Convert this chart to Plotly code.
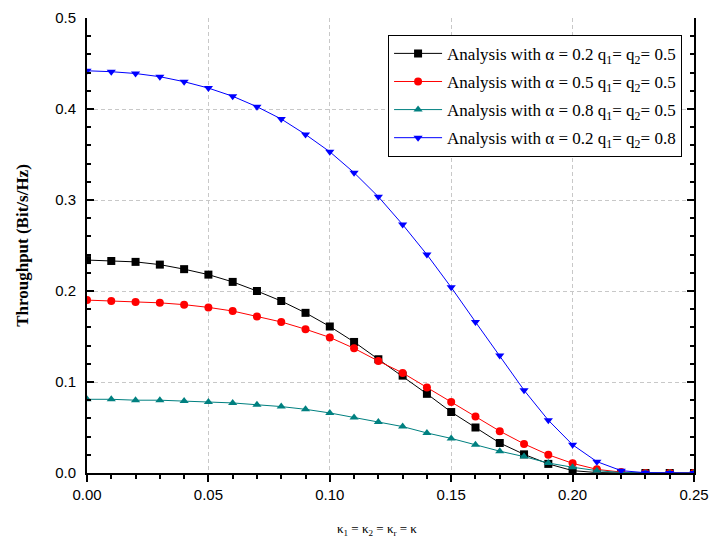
import plotly.graph_objects as go

kappa = [0.00, 0.01, 0.02, 0.03, 0.04, 0.05, 0.06, 0.07, 0.08, 0.09, 0.10, 0.11, 0.12,
         0.13, 0.14, 0.15, 0.16, 0.17, 0.18, 0.19, 0.20, 0.21, 0.22, 0.23, 0.24, 0.25]

thr_a02_q05 = [0.234, 0.233, 0.232, 0.229, 0.224, 0.218, 0.210, 0.200, 0.189, 0.176, 0.161,
               0.144, 0.125, 0.107, 0.087, 0.067, 0.050, 0.033, 0.0205, 0.010, 0.0026,
               0.0005, 0.0, 0.0, 0.0, 0.0]
thr_a05_q05 = [0.190, 0.189, 0.188, 0.187, 0.185, 0.182, 0.178, 0.172, 0.166, 0.158, 0.149,
               0.137, 0.123, 0.110, 0.094, 0.078, 0.062, 0.046, 0.032, 0.020, 0.0106,
               0.004, 0.001, 0.0, 0.0, 0.0]
thr_a08_q05 = [0.081, 0.081, 0.080, 0.080, 0.079, 0.078, 0.077, 0.075, 0.073, 0.070, 0.066,
               0.061, 0.056, 0.051, 0.044, 0.038, 0.031, 0.024, 0.018, 0.011, 0.0063,
               0.0026, 0.0005, 0.0, 0.0, 0.0]
thr_a02_q08 = [0.442, 0.441, 0.439, 0.4355, 0.430, 0.423, 0.414, 0.4025, 0.389, 0.372, 0.353,
               0.330, 0.3036, 0.273, 0.240, 0.204, 0.166, 0.129, 0.091, 0.058, 0.031,
               0.0125, 0.0026, 0.0003, 0.0, 0.0]

names = [
    "Analysis with α = 0.2 q<sub>1</sub>= q<sub>2</sub>= 0.5",
    "Analysis with α = 0.5 q<sub>1</sub>= q<sub>2</sub>= 0.5",
    "Analysis with α = 0.8 q<sub>1</sub>= q<sub>2</sub>= 0.5",
    "Analysis with α = 0.2 q<sub>1</sub>= q<sub>2</sub>= 0.8",
]
series = [thr_a02_q05, thr_a05_q05, thr_a08_q05, thr_a02_q08]
colors = ["#000000", "#FF0000", "#008080", "#0000FF"]
symbols = ["square", "circle", "triangle-up", "triangle-down"]
x_title = "κ<sub>1</sub> = κ<sub>2</sub> = κ<sub>r</sub> = κ"
y_title = "<b>Throughput (Bit/s/Hz)</b>"

fig = go.Figure()
for i, (nm, ys, c, s) in enumerate(zip(names, series, colors, symbols)):
    fig.add_trace(go.Scatter(x=kappa, y=ys, name=nm, mode="lines+markers",
                             legendgroup=f"g{i}",
                             line=dict(color=c, width=1),
                             marker=dict(symbol=s, size=8, color=c)))

serif = "Liberation Serif, Times New Roman, serif"
sans = "Liberation Sans, Arial, sans-serif"
grid_dash = "4px,3px"

fig.update_layout(
    width=710, height=535,
    margin=dict(l=79, r=24, t=10, b=70),
    paper_bgcolor="white", plot_bgcolor="white",
    showlegend=True,
    legend=dict(x=0.496, y=0.963, xanchor="left", yanchor="top",
                bgcolor="white", bordercolor="black", borderwidth=1,
                font=dict(family=serif, size=17, color="black"),
                itemwidth=48, tracegroupgap=3),
    xaxis=dict(range=[0, 0.25], dtick=0.05, tickformat=".2f", automargin=False,
               showline=True, linecolor="black", linewidth=2,
               ticks="outside", ticklen=7, tickwidth=1.5, tickcolor="black",
               minor=dict(dtick=0.01, ticks="outside", ticklen=4, tickcolor="black", showgrid=False),
               showgrid=True, gridcolor="#c8c8c8", griddash=grid_dash, gridwidth=1,
               zeroline=False,
               tickfont=dict(family=sans, size=15, color="black")),
    xaxis2=dict(range=[0, 0.25], dtick=0.05, overlaying="x", side="top", automargin=False,
                showline=True, linecolor="black", linewidth=2,
                ticks="inside", ticklen=7, tickwidth=1.5, tickcolor="black",
                minor=dict(dtick=0.01, ticks="inside", ticklen=4, tickcolor="black", showgrid=False),
                showgrid=False, zeroline=False, showticklabels=False),
    yaxis=dict(range=[0, 0.5], dtick=0.1, tickformat=".1f", automargin=False,
               showline=True, linecolor="black", linewidth=2, mirror="ticks",
               ticks="inside", ticklen=7, tickwidth=1.5, tickcolor="black",
               ticklabelstandoff=6,
               minor=dict(dtick=0.02, ticks="inside", ticklen=4, tickcolor="black", showgrid=False),
               showgrid=True, gridcolor="#c8c8c8", griddash=grid_dash, gridwidth=1,
               zeroline=False,
               tickfont=dict(family=sans, size=15, color="black"),
               title=dict(text=y_title,
                          font=dict(family=serif, size=17, color="black"), standoff=22)),
    annotations=[dict(text=x_title, xref="paper", yref="paper",
                      x=0.478, y=-0.125, xanchor="center", yanchor="middle",
                      showarrow=False,
                      font=dict(family=serif, size=13, color="black"))],
)

fig.write_html("out.html")
